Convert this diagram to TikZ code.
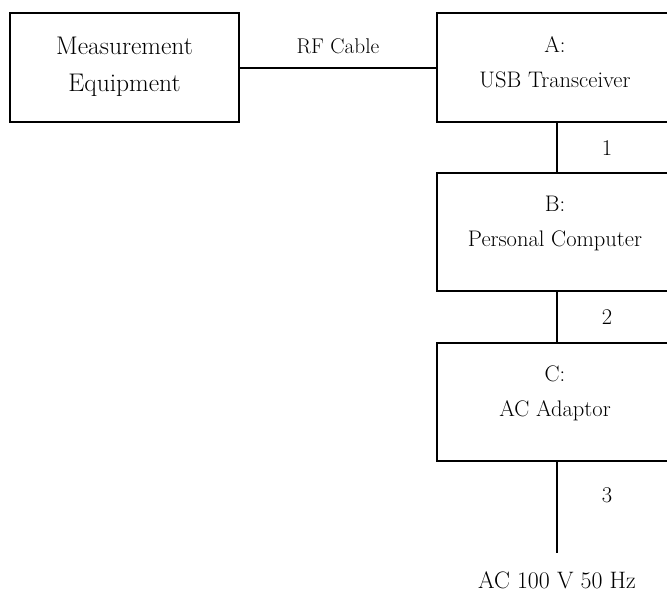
\documentclass[tikz,border=0pt]{standalone}
\usepackage{fontspec}
\usetikzlibrary{positioning}
\begin{document}
\begin{tikzpicture}[x=1pt,y=-1pt,line width=2pt,
                    unit box/.style={draw,minimum width=240pt,minimum height=118pt},
                    box text/.style={align=center,font=\fontsize{22.5}{35}\selectfont},
                    cable label/.style={font=\fontsize{22.5}{26}\selectfont}]

  \useasboundingbox (0,0) rectangle (667,593);
  \clip (0,0) rectangle (667,593);

  % boxes
  \node[unit box,minimum width=229pt,minimum height=109pt] (meas) at (124.5,68) {};
  \node[unit box,minimum height=109pt] (A) at (557,68) {};
  \node[unit box] (B) at (557,232) {};
  \node[unit box] (C) at (557,402) {};

  % box texts
  \node[box text,font=\fontsize{25.5}{37}\selectfont] (meas text) at ([yshift=1pt]meas.center) {Measurement\\Equipment};
  \node[box text] (A text) at ([yshift=6pt,xshift=-2pt]A.center) {A:\\USB Transceiver};
  \node[box text] (B text) at ([yshift=8pt,xshift=-2pt]B.center) {B:\\Personal Computer};
  \node[box text] (C text) at ([yshift=9pt,xshift=-2pt]C.center) {C:\\AC Adaptor};

  \coordinate (mains) at (557,553);
  \node[cable label,font=\fontsize{23.8}{28}\selectfont,inner sep=1pt] (ac in) at (557,580.5) {AC 100 V 50 Hz};

  % cables
  \path[every node/.style={cable label}]
    (meas) edge node[above=10pt,font=\fontsize{21.3}{25}\selectfont] {RF Cable} (A)
    (A) edge node[xshift=50pt] {1} (B)
    (B) edge node[xshift=50pt] {2} (C)
    (C) edge node[pos=0.37,xshift=50pt] {3} (mains);
\end{tikzpicture}
\end{document}
